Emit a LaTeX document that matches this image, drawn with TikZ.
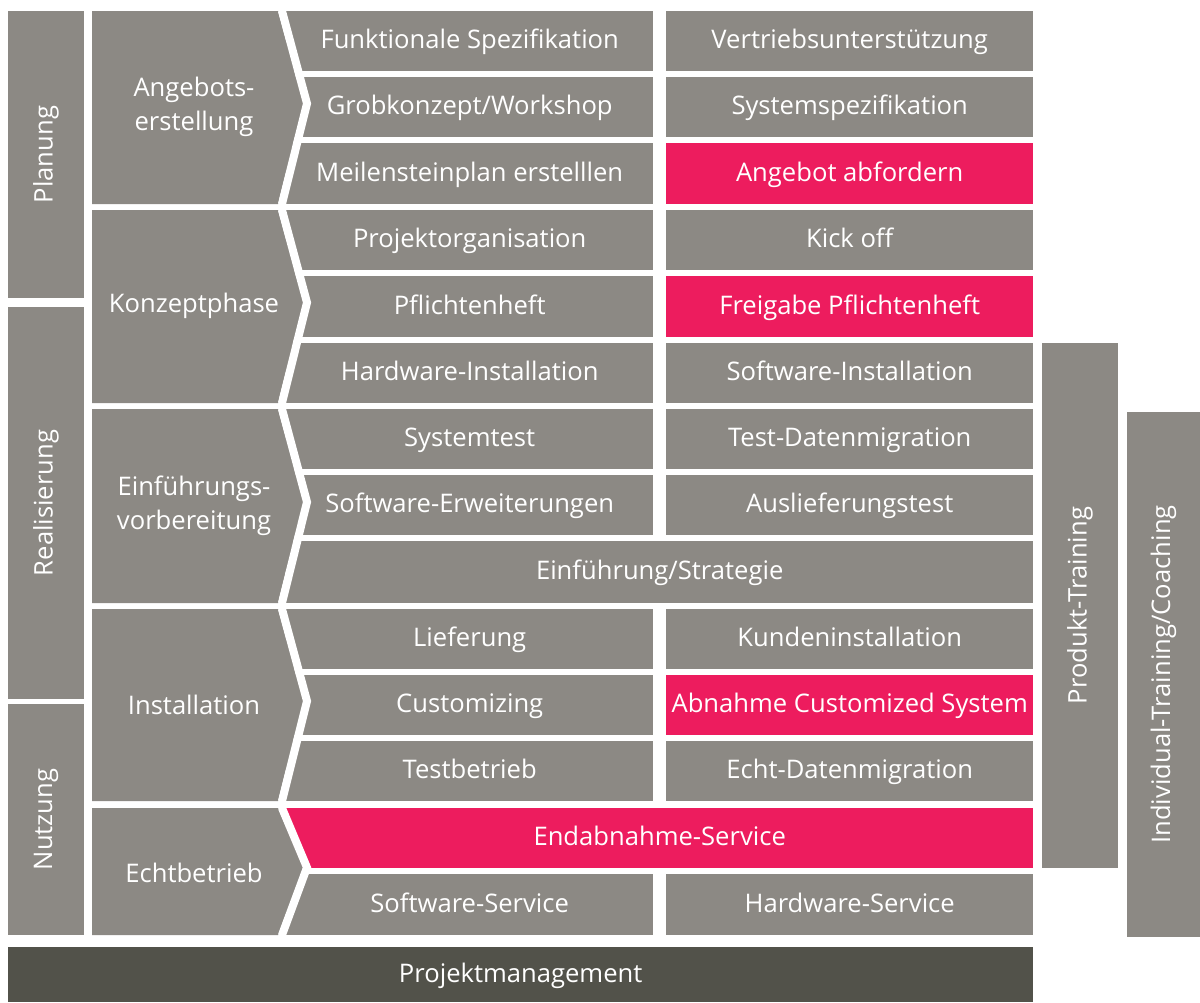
\documentclass[tikz,border=0pt]{standalone}
\usepackage{fontspec}
\setmainfont{Open Sans}

\definecolor{taskgray}{HTML}{8C8984}
\definecolor{signalpink}{HTML}{ED1C5E}
\definecolor{pmdark}{HTML}{52524A}

\begin{document}
\begin{tikzpicture}[
  x = 1pt, y = -1pt,
  every node/.style = {font=\fontsize{25.6}{34}\selectfont, text=white, inner sep=0pt, align=center},
  box/.style = {fill=taskgray, anchor=north west, minimum width=367pt, minimum height=60pt,
                text height=19pt, text depth=4pt},
  hot/.style = {box, fill=signalpink},
  tall/.style = {minimum height=61pt},
  wide/.style = {minimum width=747pt},
  bar/.style = {fill=taskgray, rotate=90},
  cut/.style = {draw=white, line width=8pt, line cap=square},
]
\useasboundingbox (0,0) rectangle (1200,1002);

% task rows, left column from x=286, right column from x=666
\node[box]       (funkspez) at (286,11)  {Funktionale Spezifikation};
\node[box]       (vertrieb) at (666,11)  {Vertriebsunterstützung};
\node[box]       (grob)     at (286,77)  {Grobkonzept/Workshop};
\node[box]       (sysspez)  at (666,77)  {Systemspezifikation};
\node[box, tall] (meilen)   at (286,143) {Meilensteinplan erstelllen};
\node[hot, tall] (angebot)  at (666,143) {Angebot abfordern};

\node[box]       (projorg)  at (286,210) {Projektorganisation};
\node[box]       (kickoff)  at (666,210) {Kick off};
\node[box, tall] (pflicht)  at (286,276) {Pflichtenheft};
\node[hot, tall] (freigabe) at (666,276) {Freigabe Pflichtenheft};
\node[box]       (hwinst)   at (286,343) {Hardware-Installation};
\node[box]       (swinst)   at (666,343) {Software-Installation};

\node[box]       (systest)  at (286,409) {Systemtest};
\node[box]       (testmig)  at (666,409) {Test-Datenmigration};
\node[box]       (swerw)    at (286,475) {Software-Erweiterungen};
\node[box]       (auslief)  at (666,475) {Auslieferungstest};
\node[box, wide, minimum height=62pt] (strategie) at (286,541) {Einführung/Strategie};

\node[box]       (lieferung) at (286,609) {Lieferung};
\node[box]       (kundinst)  at (666,609) {Kundeninstallation};
\node[box]       (custom)    at (286,675) {Customizing};
\node[hot]       (abnahme)   at (666,675) {Abnahme Customized System};
\node[box]       (testbetr)  at (286,741) {Testbetrieb};
\node[box]       (echtmig)   at (666,741) {Echt-Datenmigration};

\node[hot, wide]  (endabn)   at (286,808) {Endabnahme-Service};
\node[box, tall]  (swserv)   at (286,874) {Software-Service};
\node[box, tall]  (hwserv)   at (666,874) {Hardware-Service};

% phase arrows; the white stroke cuts the notch into the task rows
\foreach \t/\b in {11/204, 210/403, 409/603, 609/801, 808/935} {
  \pgfmathsetmacro\m{(\t+\b)/2-4}
  \fill[taskgray] (92,\t) -- (278,\t) -- (303,\m) -- (278,\b) -- (92,\b) -- cycle;
  \draw[cut] (282,\t) -- (307,\m) -- (282,\b);
}

\node (angebotserst) at (194,107) {Angebots-\\erstellung};
\node (konzept)      at (194,306) {Konzeptphase};
\node (einfuehrung)  at (194,506) {Einführungs-\\vorbereitung};
\node (installation) at (194,705) {Installation};
\node (echtbetrieb)  at (194,873) {Echtbetrieb};

% side bars
\node[bar, minimum width=287, minimum height=76] (planung)      at (46,154.5) {Planung};
\node[bar, minimum width=392, minimum height=76] (realisierung) at (46,503)   {Realisierung};
\node[bar, minimum width=231, minimum height=76] (nutzung)      at (46,819.5) {Nutzung};

\node[bar, minimum width=525, minimum height=76] (produkt)    at (1080,605.5)   {Produkt-Training};
\node[bar, minimum width=525, minimum height=73] (individual) at (1163.5,674.5) {Individual-Training/Coaching};

\node[box, fill=pmdark, minimum width=1025pt, minimum height=55pt] (pm) at (8,947) {Projektmanagement};

\end{tikzpicture}
\end{document}
